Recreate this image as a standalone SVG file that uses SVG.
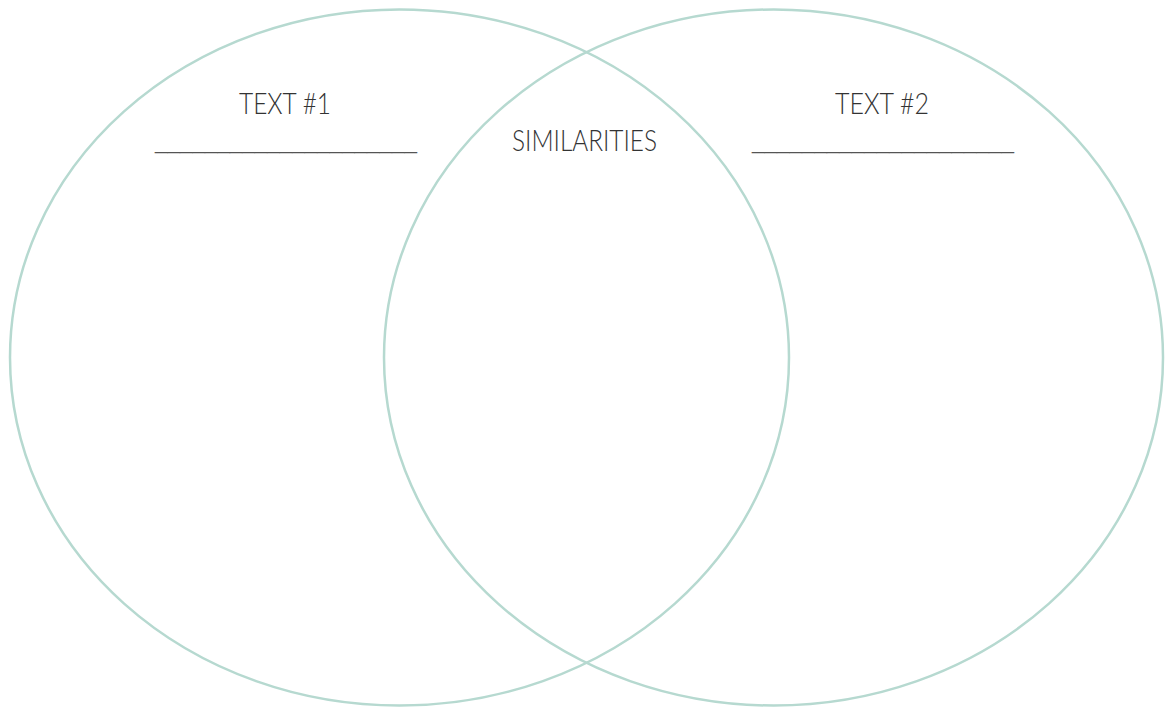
<svg xmlns="http://www.w3.org/2000/svg" width="1171" height="708" viewBox="0 0 1171 708">
<style>
.c{fill:none;stroke:#b6d9d0;stroke-width:2.5}
.t{font-family:Lato,"Liberation Sans",sans-serif;font-weight:300;font-size:30px;fill:#333;text-anchor:middle}
.u{font-family:"Liberation Sans",sans-serif;font-size:20px;fill:#555}
</style>
<rect width="1171" height="708" fill="#fff"/>
<g id="circle1"><ellipse class="c" cx="399.5" cy="357.5" rx="389.5" ry="348"/></g>
<g id="circle2"><ellipse class="c" cx="773.5" cy="357.5" rx="389.5" ry="348"/></g>
<g id="label1">
<text class="t" x="285" y="114" textLength="92" lengthAdjust="spacingAndGlyphs">TEXT #1</text>
<text class="u" x="155" y="149" textLength="262" lengthAdjust="spacingAndGlyphs">_____________________</text>
</g>
<g id="label-sim"><text class="t" x="584.5" y="151" textLength="145" lengthAdjust="spacingAndGlyphs">SIMILARITIES</text></g>
<g id="label2">
<text class="t" x="882" y="114" textLength="94" lengthAdjust="spacingAndGlyphs">TEXT #2</text>
<text class="u" x="752" y="149" textLength="262" lengthAdjust="spacingAndGlyphs">_____________________</text>
</g>
<g id="connectors"/>
</svg>
